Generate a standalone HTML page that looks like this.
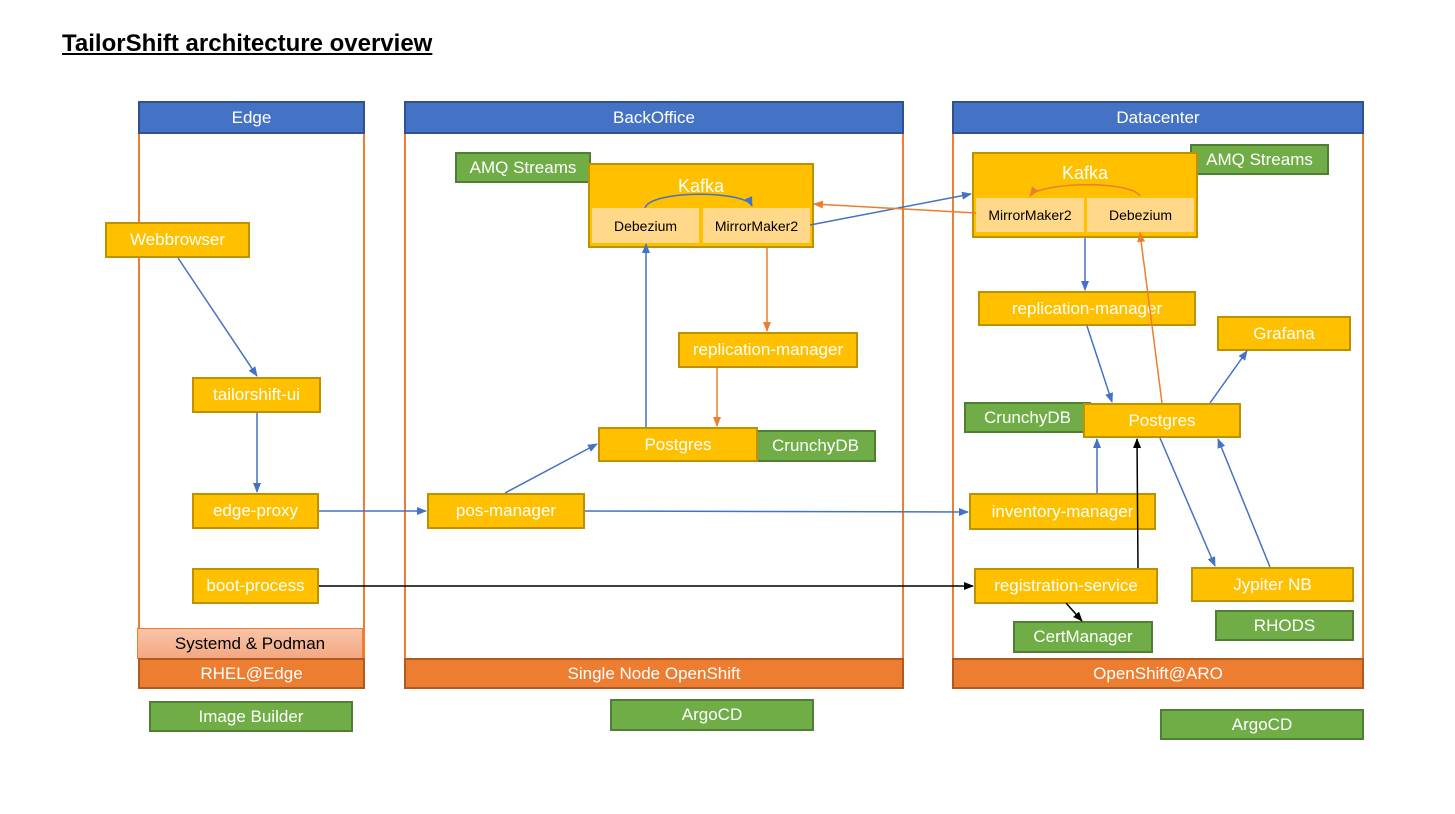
<!DOCTYPE html>
<html><head><meta charset="utf-8"><style>
body{margin:0;width:1455px;height:814px;background:#fff;position:relative;overflow:hidden;font-family:"Liberation Sans",sans-serif}
.b{position:absolute;box-sizing:border-box;display:flex;align-items:center;justify-content:center;white-space:nowrap;font-size:17px}
.y{background:#FFC000;border:2px solid #BF9000;color:#fff}
.g{background:#70AD47;border:2px solid #507E32;color:#fff}
.h{background:#4472C4;border:2px solid #2F528F;color:#fff}
.o{background:#ED7D31;border:2px solid #AE5A21;color:#fff}
.f{border:2px solid #ED7D31}
.l{background:#FFD88A;color:#000;font-size:14px}
.t{position:absolute;left:62px;top:30px;font-size:24px;font-weight:bold;text-decoration:underline;color:#000}
svg{position:absolute;left:0;top:0}
</style></head><body>
<div class="t">TailorShift architecture overview</div>
<div class="b f" style="left:138px;top:101px;width:227px;height:588px"></div>
<div class="b f" style="left:404px;top:101px;width:500px;height:588px"></div>
<div class="b f" style="left:952px;top:101px;width:412px;height:588px"></div>
<div class="b h" style="left:138px;top:101px;width:227px;height:33px">Edge</div>
<div class="b h" style="left:404px;top:101px;width:500px;height:33px">BackOffice</div>
<div class="b h" style="left:952px;top:101px;width:412px;height:33px">Datacenter</div>
<div class="b" style="left:137px;top:628px;width:226px;height:31px;background:linear-gradient(#F8C4A8,#F4A882);border:1px solid #ED7D31;color:#000">Systemd &amp; Podman</div>
<div class="b o" style="left:138px;top:658px;width:227px;height:31px">RHEL@Edge</div>
<div class="b o" style="left:404px;top:658px;width:500px;height:31px">Single Node OpenShift</div>
<div class="b o" style="left:952px;top:658px;width:412px;height:31px">OpenShift@ARO</div>
<div class="b g" style="left:149px;top:701px;width:204px;height:31px">Image Builder</div>
<div class="b g" style="left:610px;top:699px;width:204px;height:32px">ArgoCD</div>
<div class="b g" style="left:1160px;top:709px;width:204px;height:31px">ArgoCD</div>

<div class="b y" style="left:105px;top:222px;width:145px;height:36px">Webbrowser</div>
<div class="b y" style="left:192px;top:377px;width:129px;height:36px">tailorshift-ui</div>
<div class="b y" style="left:192px;top:493px;width:127px;height:36px">edge-proxy</div>
<div class="b y" style="left:192px;top:568px;width:127px;height:36px">boot-process</div>
<div class="b y" style="left:427px;top:493px;width:158px;height:36px">pos-manager</div>
<div class="b g" style="left:755px;top:430px;width:121px;height:32px">CrunchyDB</div>
<div class="b y" style="left:598px;top:427px;width:160px;height:35px">Postgres</div>
<div class="b y" style="left:678px;top:332px;width:180px;height:36px">replication-manager</div>
<div class="b g" style="left:455px;top:152px;width:136px;height:31px">AMQ Streams</div>
<div class="b y" style="left:588px;top:163px;width:226px;height:85px;align-items:flex-start;padding-top:11px;font-size:18px">Kafka</div>
<div class="b l" style="left:592px;top:208px;width:107px;height:35px">Debezium</div>
<div class="b l" style="left:703px;top:208px;width:107px;height:35px">MirrorMaker2</div>
<div class="b g" style="left:1190px;top:144px;width:139px;height:31px">AMQ Streams</div>
<div class="b y" style="left:972px;top:152px;width:226px;height:86px;align-items:flex-start;padding-top:9px;font-size:18px">Kafka</div>
<div class="b l" style="left:976px;top:198px;width:108px;height:34px">MirrorMaker2</div>
<div class="b l" style="left:1087px;top:198px;width:107px;height:34px">Debezium</div>
<div class="b y" style="left:978px;top:291px;width:218px;height:35px">replication-manager</div>
<div class="b y" style="left:1217px;top:316px;width:134px;height:35px">Grafana</div>
<div class="b g" style="left:964px;top:402px;width:127px;height:31px">CrunchyDB</div>
<div class="b y" style="left:1083px;top:403px;width:158px;height:35px">Postgres</div>
<div class="b y" style="left:969px;top:493px;width:187px;height:37px">inventory-manager</div>
<div class="b y" style="left:974px;top:568px;width:184px;height:36px">registration-service</div>
<div class="b y" style="left:1191px;top:567px;width:163px;height:35px">Jypiter NB</div>
<div class="b g" style="left:1013px;top:621px;width:140px;height:32px">CertManager</div>
<div class="b g" style="left:1215px;top:610px;width:139px;height:31px">RHODS</div>

<svg width="1455" height="814">
<defs>
<marker id="ab" markerWidth="10" markerHeight="8" refX="9" refY="4" orient="auto" markerUnits="userSpaceOnUse"><path d="M0,0L10,4L0,8z" fill="#4472C4"/></marker>
<marker id="ao" markerWidth="10" markerHeight="8" refX="9" refY="4" orient="auto" markerUnits="userSpaceOnUse"><path d="M0,0L10,4L0,8z" fill="#ED7D31"/></marker>
<marker id="ak" markerWidth="10" markerHeight="8" refX="9" refY="4" orient="auto" markerUnits="userSpaceOnUse"><path d="M0,0L10,4L0,8z" fill="#000"/></marker>
</defs>
<g stroke="#4472C4" stroke-width="1.5" fill="none" marker-end="url(#ab)">
<line x1="178" y1="258" x2="257" y2="376"/>
<line x1="257" y1="413" x2="257" y2="492"/>
<line x1="319" y1="511" x2="426" y2="511"/>
<line x1="585" y1="511" x2="968" y2="512"/>
<line x1="505" y1="493" x2="597" y2="444"/>
<line x1="646" y1="427" x2="646" y2="244"/>
<path d="M645,208 C650,190 745,190 752,206"/>
<line x1="810" y1="225" x2="971" y2="194"/>
<line x1="1085" y1="238" x2="1085" y2="290"/>
<line x1="1087" y1="326" x2="1112" y2="402"/>
<line x1="1210" y1="403" x2="1247" y2="351"/>
<line x1="1097" y1="493" x2="1097" y2="439"/>
<line x1="1160" y1="438" x2="1215" y2="566"/>
<line x1="1270" y1="567" x2="1218" y2="439"/>
</g>
<g stroke="#ED7D31" stroke-width="1.5" fill="none" marker-end="url(#ao)">
<line x1="976" y1="213" x2="814" y2="204"/>
<line x1="767" y1="248" x2="767" y2="331"/>
<line x1="717" y1="368" x2="717" y2="426"/>
<path d="M1140,196 C1130,180 1040,182 1030,196"/>
<line x1="1162" y1="403" x2="1140" y2="233"/>
</g>
<g stroke="#000" stroke-width="1.5" fill="none" marker-end="url(#ak)">
<line x1="319" y1="586" x2="973" y2="586"/>
<line x1="1138" y1="568" x2="1137" y2="439"/>
<line x1="1066" y1="603" x2="1082" y2="621"/>
</g>
</svg>
</body></html>
